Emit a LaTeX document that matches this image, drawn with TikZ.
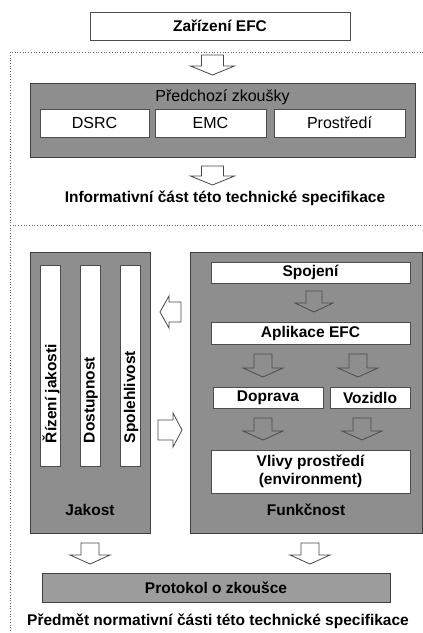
\documentclass[tikz,border=0pt]{standalone}
\usepackage{fontspec}
\setmainfont{Liberation Sans}
\begin{document}
\begin{tikzpicture}[x=1pt,y=-1pt,
  every node/.style={inner sep=0pt, outer sep=0pt},
  panel/.style={draw=black!75, line width=0.8pt, fill=panelgray},
  card/.style={draw=black!70, line width=0.7pt, fill=white},
  bold/.style={font=\fontsize{15.5}{18}\selectfont\bfseries},
  plain/.style={font=\fontsize{16}{19}\selectfont},
  barrow/.style={draw=black!72, line width=0.8pt, fill=white, line join=miter},
  inner arrow/.style={barrow/.append style={fill=panelgray, draw=black!70}},
  sep/.style={draw=black!60, dotted, line width=0.7pt},
  pics/dnarrow/.style n args={3}{code={
    \draw[barrow] (-#3,0) -- (#3,0) -- (#3,#1-9) -- (#2,#1-9) -- (0,#1)
      -- (-#2,#1-9) -- (-#3,#1-9) -- cycle;}},
  pics/lfarrow/.style n args={3}{code={
    \draw[barrow] (0,0) -- (9,-#2) -- (9,-#3) -- (#1,-#3) -- (#1,#3)
      -- (9,#3) -- (9,#2) -- cycle;}},
]
\definecolor{panelgray}{HTML}{8E8E8E}
\definecolor{footgray}{HTML}{9C9C9C}
\useasboundingbox (0,0) rectangle (423,633);

% separators of the two parts
\draw[sep] (423,52) -- (10,52) -- (10,633);
\draw[sep] (10,225) -- (423,225);

% device under test
\node[card, bold, minimum width=260, minimum height=28] (dev) at (220,26) {Zařízení EFC};
\pic at (212.5,55) {dnarrow={20}{22}{11}};

% preliminary tests
\node[panel, minimum width=385, minimum height=74] (pre) at (222.5,120) {};
\node[plain] (pretitle) at (222.5,97) {Předchozí zkoušky};
\node[card, plain, minimum width=109, minimum height=28] (dsrc) at (94.5,123) {DSRC};
\node[card, plain, minimum width=111, minimum height=28] (emc) at (210.5,123) {EMC};
\node[card, plain, minimum width=131, minimum height=28] (env) at (339.5,123) {Prostředí};
\pic at (212.5,166) {dnarrow={19}{22}{11}};
\node[bold] (inform) at (225,198) {Informativní část této technické specifikace};

% quality
\node[panel, minimum width=120, minimum height=281] (quality) at (90,392.5) {};
\foreach \n/\x/\t in {qa/50/Řízení jakosti, av/90/Dostupnost, rel/130/Spolehlivost}{
  \node[card, minimum width=20, minimum height=201] (\n) at (\x,365.5) {};
  \node[bold, rotate=90, anchor=west] (\n-t) at (\x+1,443) {\t};
}
\node[bold] (qualityt) at (90,510) {Jakost};

% functionality
\node[panel, minimum width=232, minimum height=281] (func) at (306,392.5) {};
\node[card, bold, minimum width=199, minimum height=21] (conn) at (310.5,272.5) {Spojení};
\begin{scope}[inner arrow]
  \pic at (314,291) {dnarrow={21}{19}{8}};
  \pic at (263,354) {dnarrow={23}{20}{9}};
  \pic at (358,354) {dnarrow={23}{20}{9}};
  \pic at (263,418) {dnarrow={22}{20}{9}};
  \pic at (362,418) {dnarrow={22}{20}{9}};
\end{scope}
\node[card, bold, minimum width=199, minimum height=22] (app) at (310.5,333) {Aplikace EFC};
\node[card, bold, minimum width=110, minimum height=21] (traffic) at (268,397.5) {Doprava};
\node[card, bold, minimum width=80, minimum height=21] (vehicle) at (370,397.5) {Vozidlo};
\node[card, bold, minimum width=199, minimum height=43, align=center] (envinf) at (310.5,471.5)
  {Vlivy prostředí\\(environment)};
\node[bold] (funct) at (306,510) {Funkčnost};

% exchange between quality and functionality
\pic at (160,312) {lfarrow={21}{16}{10}};
\pic[xscale=-1] at (182,430) {lfarrow={24}{17}{10}};

% test report
\pic at (90,543) {dnarrow={21}{20}{9}};
\pic at (310,543) {dnarrow={21}{20}{9}};
\node[draw=black!75, line width=0.8pt, fill=footgray, bold, minimum width=348, minimum height=29]
  (report) at (216,587.5) {Protokol o zkoušce};
\node[bold] (norm) at (218,621) {Předmět normativní části této technické specifikace};
\end{tikzpicture}
\end{document}
